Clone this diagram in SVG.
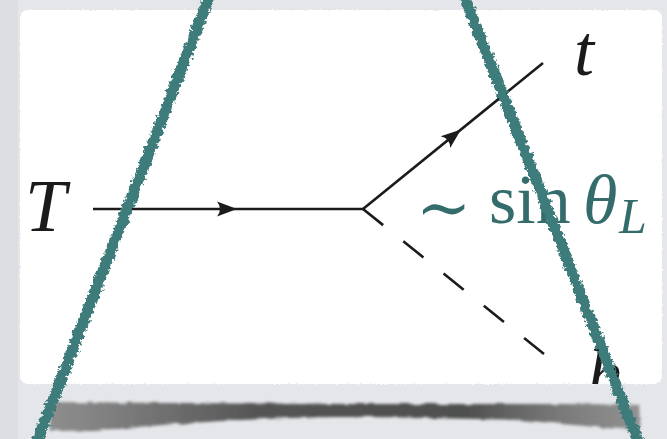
<svg xmlns="http://www.w3.org/2000/svg" xmlns:xlink="http://www.w3.org/1999/xlink" width="667" height="439" viewBox="0 0 667 439">
  <style>
    .prop { stroke: #1b1b1b; stroke-width: 2.6; fill: none; stroke-linecap: butt; }
    .dash { stroke-dasharray: 25.8 25.8; }
    .arrowhead { fill: #1b1b1b; }
    .math { font-family: "Liberation Serif", "DejaVu Serif", serif; fill: #1b1b1b; }
    .sym { font-family: "DejaVu Serif", "Liberation Serif", serif; }
    .it { font-style: italic; }
    .teal-text { fill: #336c6b; }
    .teal-line { stroke: #3e7b7a; stroke-width: 11; fill: none; stroke-linecap: round; }
  </style>
  <defs>
    <path id="arrow" class="arrowhead" d="M0,0 L-20,-7.5 Q-14,0 -20,7.5 Z"/>
    <filter id="rough" x="-10%" y="-10%" width="120%" height="120%">
      <feTurbulence type="fractalNoise" baseFrequency="0.28" numOctaves="3" seed="3" result="n"/>
      <feDisplacementMap in="SourceGraphic" in2="n" scale="7" xChannelSelector="R" yChannelSelector="G"/>
    </filter>
    <filter id="cardEdge" x="-5%" y="-5%" width="110%" height="110%">
      <feTurbulence type="fractalNoise" baseFrequency="0.5" numOctaves="1" seed="7" result="n"/>
      <feDisplacementMap in="SourceGraphic" in2="n" scale="2.5" xChannelSelector="R" yChannelSelector="G"/>
    </filter>
    <filter id="blur" x="-10%" y="-50%" width="120%" height="200%">
      <feTurbulence type="fractalNoise" baseFrequency="0.08 0.4" numOctaves="2" seed="5" result="n"/>
      <feDisplacementMap in="SourceGraphic" in2="n" scale="4" xChannelSelector="R" yChannelSelector="G" result="d"/>
      <feGaussianBlur in="d" stdDeviation="1.4"/>
    </filter>
    <linearGradient id="shadowGrad" x1="0" y1="0" x2="1" y2="0">
      <stop offset="0" stop-color="#8a8a8a"/>
      <stop offset="0.12" stop-color="#777777"/>
      <stop offset="0.35" stop-color="#4e4e4e"/>
      <stop offset="0.7" stop-color="#474747"/>
      <stop offset="0.86" stop-color="#737373"/>
      <stop offset="1" stop-color="#8e8e8e"/>
    </linearGradient>
    <clipPath id="cardClip">
      <rect x="20" y="10" width="642" height="374" rx="8"/>
    </clipPath>
  </defs>

  <!-- background -->
  <rect x="0" y="0" width="667" height="439" fill="#e4e6e9"/>
  <rect x="0" y="0" width="18" height="439" fill="#dcdee1"/>

  <!-- card shadow -->
  <path id="card-shadow" d="M50,402 C150,403 300,404 450,404 C540,404 600,404 640,405 L640,430 C600,428 565,424 520,420 C450,418 380,417 333,417 C260,418 200,422 150,426 C110,430 80,431 50,431 Z" fill="url(#shadowGrad)" filter="url(#blur)" opacity="0.95"/>

  <!-- card -->
  <g id="card">
    <rect x="20" y="10" width="642" height="374" rx="8" fill="#ffffff" filter="url(#cardEdge)"/>
  </g>

  <!-- connectors -->
  <g id="connectors">
    <line class="prop" x1="93" y1="209" x2="363" y2="209"/>
    <use xlink:href="#arrow" href="#arrow" transform="translate(237,209)"/>
    <line class="prop" x1="363" y1="209" x2="543" y2="63"/>
    <use xlink:href="#arrow" href="#arrow" transform="translate(461,129.5) rotate(-39.04)"/>
    <line class="prop dash" x1="363" y1="209" x2="544" y2="354"/>
  </g>

  <!-- nodes / labels -->
  <g id="node-T">
    <text class="math it" x="25" y="231" font-size="74">T</text>
  </g>
  <g id="node-t">
    <text class="math it" x="574" y="75" font-size="72">t</text>
  </g>
  <g id="node-h" clip-path="url(#cardClip)">
    <text class="math it" x="587" y="399" font-size="72">h</text>
  </g>
  <g id="label-coupling">
    <text class="math sym teal-text" x="416" y="230" font-size="66">∼</text>
    <text class="math teal-text" x="489" y="223" font-size="70">sin</text>
    <text class="math teal-text it" x="583" y="223" font-size="70">θ</text>
    <text class="math teal-text it" x="619" y="233" font-size="50">L</text>
  </g>

  <!-- hand-drawn teal cone lines -->
  <g id="cone-lines" filter="url(#rough)">
    <line class="teal-line" x1="210" y1="-5" x2="36" y2="444"/>
    <line class="teal-line" x1="464" y1="-5" x2="639" y2="444"/>
  </g>
</svg>
